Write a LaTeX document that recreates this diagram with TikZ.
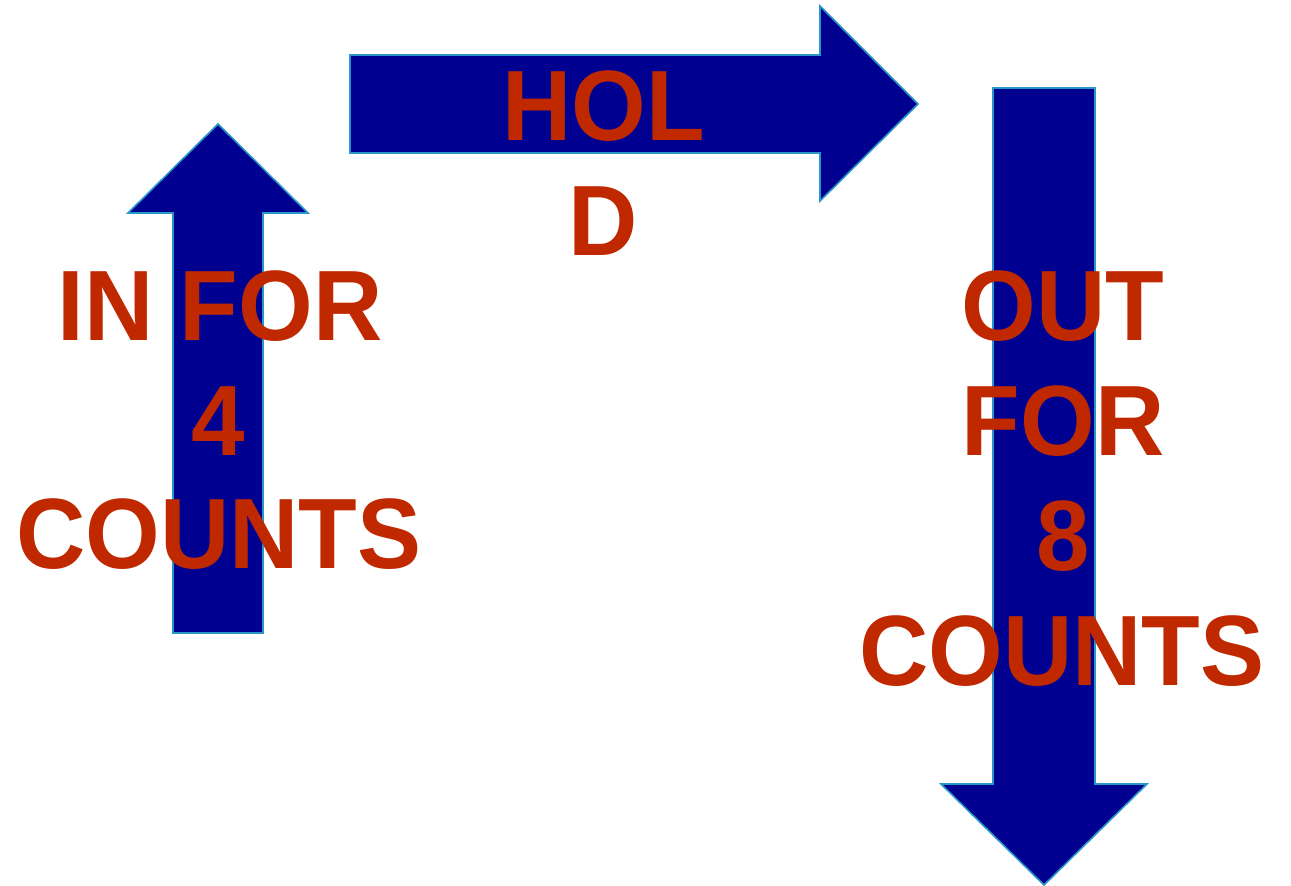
\documentclass[tikz,border=0pt]{standalone}
\usepackage{fontspec}
\setmainfont{Liberation Sans}
\definecolor{navy}{RGB}{0,0,144}
\definecolor{edgeblue}{RGB}{40,150,200}
\definecolor{txtred}{RGB}{192,40,0}
\begin{document}
\begin{tikzpicture}[x=1pt,y=-1pt,
  arrowshape/.style={fill=navy,draw=edgeblue,line width=1.6pt,line join=miter},
  bigtext/.style={anchor=base,inner sep=0pt,text=txtred,xscale=0.96,transform shape,
    font=\fontsize{100}{116}\selectfont\bfseries}]
\useasboundingbox (0,0) rectangle (1291,886);
% up arrow
\draw[arrowshape] (173,633) -- (173,213) -- (128,213) -- (218,124) -- (308,213) -- (263,213) -- (263,633) -- cycle;
% right arrow
\draw[arrowshape] (350,55) -- (820,55) -- (820,6) -- (918,104) -- (820,201) -- (820,153) -- (350,153) -- cycle;
% down arrow
\draw[arrowshape] (993,88) -- (1095,88) -- (1095,784) -- (1147,784) -- (1044,885) -- (941,784) -- (993,784) -- cycle;
% left text
\node[bigtext] (in1) at (220,340) {IN FOR};
\node[bigtext] (in2) at (218,455) {4};
\node[bigtext] (in3) at (219,568) {COUNTS};
% hold text
\node[bigtext] (h1) at (604,140) {HOL};
\node[bigtext] (h2) at (603,255) {D};
% right text
\node[bigtext] (o1) at (1063,340) {OUT};
\node[bigtext] (o2) at (1063,455) {FOR};
\node[bigtext] (o3) at (1063,570) {8};
\node[bigtext] (o4) at (1062,685) {COUNTS};
\end{tikzpicture}
\end{document}
